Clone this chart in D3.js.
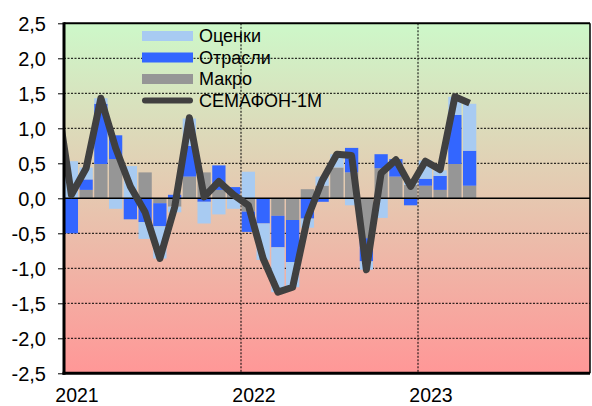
<!DOCTYPE html>
<html><head><meta charset="utf-8">
<script src="https://cdn.jsdelivr.net/npm/d3@7"></script>
<style>
html,body{margin:0;padding:0;background:#fff;}
svg{display:block;font-family:"Liberation Sans",Arial,sans-serif;}
</style></head>
<body>
<svg id="chart" width="592" height="406"></svg>
<script>
// ---- data ----
const months = ["2021-01","2021-02","2021-03","2021-04","2021-05","2021-06","2021-07","2021-08","2021-09","2021-10","2021-11","2021-12",
                "2022-01","2022-02","2022-03","2022-04","2022-05","2022-06","2022-07","2022-08","2022-09","2022-10","2022-11","2022-12",
                "2023-01","2023-02","2023-03","2023-04"];
const macro      = [0.00,0.12,0.49,0.56,0.00,0.37,-0.07,-0.12,0.31,0.37,0.12,0.06,-0.19,0.00,-0.25,-0.31,0.13,0.18,0.44,0.37,-0.57,0.43,0.31,0.19,0.18,0.12,0.49,0.18];
const sectors    = [-0.50,0.15,0.86,0.34,-0.30,-0.34,-0.33,0.05,0.44,-0.05,0.35,0.10,-0.29,-0.36,-0.45,-0.60,-0.29,-0.05,0.00,0.35,-0.33,0.20,0.25,-0.10,0.10,0.20,0.70,0.50];
const valuations = [0.53,0.17,0.08,-0.15,0.46,-0.24,-0.46,-0.08,0.39,-0.31,-0.23,-0.15,0.38,-0.52,-0.64,-0.36,-0.13,0.13,0.19,-0.10,-0.12,-0.28,0.00,0.07,0.26,0.08,0.26,0.67];
// СЕМАФОН-1М index, starting from December 2020
const lineMonths = ["2020-12"].concat(months);
const semafon = [1.45,0.05,0.43,1.43,0.72,0.17,-0.20,-0.86,-0.13,1.15,0.02,0.24,0.05,-0.10,-0.86,-1.34,-1.27,-0.29,0.25,0.63,0.61,-1.02,0.36,0.55,0.17,0.53,0.41,1.45,1.36];
const yTicks = [-2.5,-2.0,-1.5,-1.0,-0.5,0,0.5,1.0,1.5,2.0,2.5];
const yearLabels = ["2021","2022","2023"];
const seriesNames = ["Оценки","Отрасли","Макро","СЕМАФОН-1М"];

// ---- layout ----
const L = 64, R = 590, T = 23.3, B = 373.3;
const colors = {valuations:"#a8cbf2", sectors:"#3366ff", macro:"#969696", line:"#404040"};
const svg = d3.select("#chart");

const monthIndex = s => { const [y,m] = s.split("-").map(Number); return (y-2021)*12 + (m-1); };
const x = d3.scaleLinear().domain([0,12]).range([L, L+177]);
const y = d3.scaleLinear().domain([-2.5,2.5]).range([B, T]);

// background gradient
const defs = svg.append("defs");
const grad = defs.append("linearGradient").attr("id","bg").attr("x1",0).attr("x2",0).attr("y1",0).attr("y2",1);
grad.append("stop").attr("offset","0%").attr("stop-color","#cdf8c9");
grad.append("stop").attr("offset","100%").attr("stop-color","#ff9797");
defs.append("clipPath").attr("id","clip").append("rect").attr("x",L).attr("y",T).attr("width",R-L).attr("height",B-T);

svg.append("rect").attr("x",L).attr("y",T).attr("width",R-L).attr("height",B-T).attr("fill","url(#bg)");

// gridlines
const g = svg.append("g");
g.selectAll("line.hg").data(yTicks.filter(v => v !== 0 && Math.abs(v) < 2.5)).join("line")
  .attr("x1",L).attr("x2",R).attr("y1",d=>y(d)).attr("y2",d=>y(d))
  .attr("stroke","#000").attr("stroke-width",1).attr("stroke-dasharray","2,1.5");
g.selectAll("line.vg").data(yearLabels.slice(1)).join("line")
  .attr("x1",d=>x(monthIndex(d+"-01"))).attr("x2",d=>x(monthIndex(d+"-01")))
  .attr("y1",T).attr("y2",B)
  .attr("stroke","#000").attr("stroke-width",1).attr("stroke-dasharray","2,1.5");

// stacked bars (diverging)
const rows = months.map((m,i) => ({m, macro:macro[i], sectors:sectors[i], valuations:valuations[i]}));
const stack = d3.stack().keys(["macro","sectors","valuations"]).offset(d3.stackOffsetDiverging);
const layers = stack(rows);
const bw = x(1) - x(0);
const barW = bw * 0.9;
svg.append("g").attr("clip-path","url(#clip)")
  .selectAll("g").data(layers).join("g").attr("fill", d => colors[d.key])
  .selectAll("rect").data(d => d).join("rect")
  .attr("x", d => x(monthIndex(d.data.m)) + (bw - barW)/2)
  .attr("width", barW)
  .attr("y", d => y(Math.max(d[0], d[1])))
  .attr("height", d => Math.abs(y(d[0]) - y(d[1])));

// zero line
svg.append("line").attr("x1",L).attr("x2",R).attr("y1",y(0)).attr("y2",y(0)).attr("stroke","#000").attr("stroke-width",1.5);

// line
const lineGen = d3.line().x((d,i)=>x(monthIndex(lineMonths[i]) + 0.5)).y(d=>y(d));
svg.append("path").attr("clip-path","url(#clip)").datum(semafon)
  .attr("d", lineGen).attr("fill","none").attr("stroke",colors.line)
  .attr("stroke-width",7).attr("stroke-linejoin","round");

// border
svg.append("line").attr("x1",L).attr("x2",R).attr("y1",T).attr("y2",T).attr("stroke","#000").attr("stroke-width",2);
svg.append("line").attr("x1",R).attr("x2",R).attr("y1",T).attr("y2",B).attr("stroke","#000").attr("stroke-width",1.5);

// axes
const yAxis = d3.axisLeft(y).tickValues(yTicks).tickSize(6).tickPadding(12)
  .tickFormat(d => d3.format(".1f")(d).replace(".", ",").replace("−","-"));
const ya = svg.append("g").attr("transform",`translate(${L},0)`).call(yAxis);
ya.select(".domain").remove();
ya.selectAll(".tick line").attr("stroke","#000").attr("stroke-width",1);
ya.selectAll(".tick text").attr("font-size",20).attr("fill","#000").attr("dy","0.36em")
  .attr("font-family","'Liberation Sans',Arial,sans-serif");

svg.append("line").attr("x1",L).attr("x2",L).attr("y1",T-1).attr("y2",B+1.5).attr("stroke","#000").attr("stroke-width",3);
svg.append("line").attr("x1",L-1.5).attr("x2",R).attr("y1",B).attr("y2",B).attr("stroke","#000").attr("stroke-width",3);

svg.append("g").selectAll("text").data(yearLabels).join("text")
  .attr("x", d => x(monthIndex(d+"-01")) + 13)
  .attr("y", 402).attr("text-anchor","middle").attr("font-size",19.5).attr("fill","#000")
  .text(d => d);

// legend
const lg = svg.append("g");
const legRows = [
  {name:seriesNames[0], type:"bar", color:colors.valuations},
  {name:seriesNames[1], type:"bar", color:colors.sectors},
  {name:seriesNames[2], type:"bar", color:colors.macro},
  {name:seriesNames[3], type:"line", color:colors.line}
];
legRows.forEach((r,i) => {
  const cy = 36 + i*21.5;
  if (r.type === "bar") {
    lg.append("rect").attr("x",142).attr("y",cy-5).attr("width",51).attr("height",10).attr("fill",r.color);
  } else {
    lg.append("line").attr("x1",145).attr("x2",190).attr("y1",cy).attr("y2",cy)
      .attr("stroke",r.color).attr("stroke-width",6).attr("stroke-linecap","round");
  }
  lg.append("text").attr("x",199).attr("y",cy).attr("dy","0.36em").attr("font-size",18).attr("fill","#000").text(r.name);
});
</script>
</body></html>
